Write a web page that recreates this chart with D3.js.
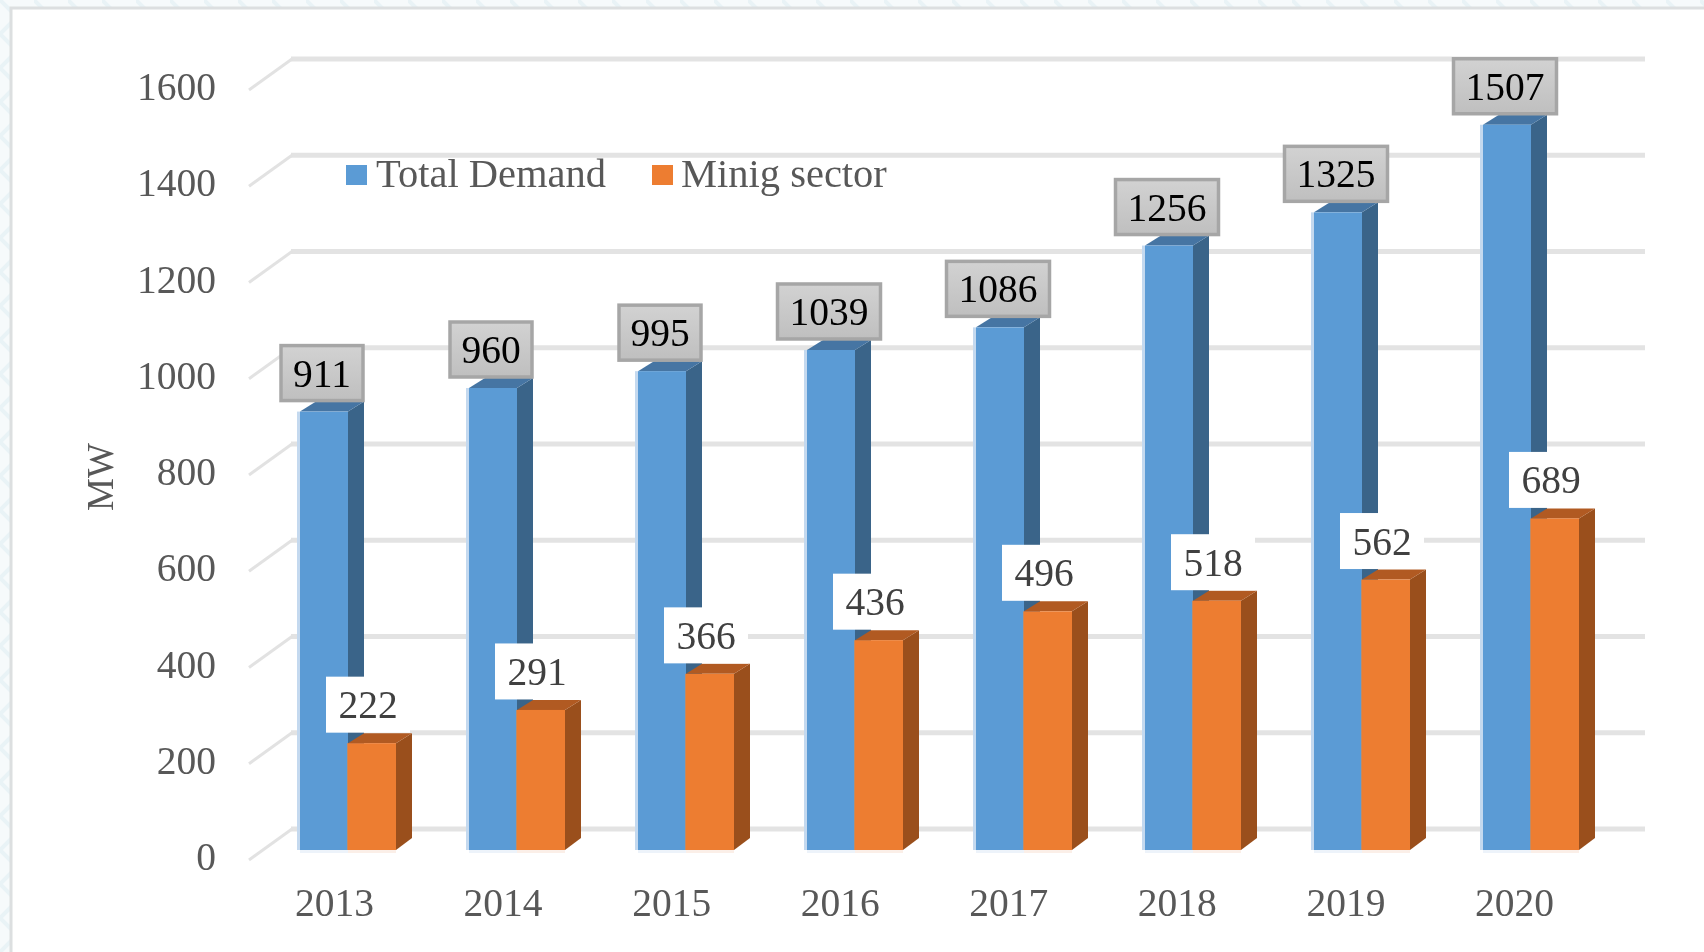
<!DOCTYPE html>
<html><head><meta charset="utf-8">
<script src="https://cdnjs.cloudflare.com/ajax/libs/d3/7.8.5/d3.min.js"></script>
<style>
html,body{margin:0;padding:0;background:#fff;overflow:hidden}
svg{display:block}
text{font-family:"Liberation Serif",serif}
</style></head><body>
<svg id="c" width="1704" height="952"></svg>
<script>
const years = ["2013","2014","2015","2016","2017","2018","2019","2020"];
const totalDemand = [911,960,995,1039,1086,1256,1325,1507];
const miningSector = [222,291,366,436,496,518,562,689];
const yTicks = [0,200,400,600,800,1000,1200,1400,1600];
const seriesNames = ["Total Demand","Minig sector"];

const svg = d3.select("#c");
const defs = svg.append("defs");
const grad = defs.append("linearGradient").attr("id","lab").attr("x2",0).attr("y2",1);
grad.append("stop").attr("offset",0).attr("stop-color","#d2d2d2");
grad.append("stop").attr("offset",1).attr("stop-color","#bfbfbf");
defs.append("filter").attr("id","soft").append("feGaussianBlur").attr("stdDeviation",0.45);
const pat = defs.append("pattern").attr("id","hatch").attr("width",34).attr("height",34).attr("patternUnits","userSpaceOnUse");
pat.append("rect").attr("width",34).attr("height",34).attr("fill","#f6fafb");
pat.append("path").attr("d","M0 34L17 17L0 0").attr("fill","none").attr("stroke","#e9f3f6").attr("stroke-width",4);

// page frame
svg.append("rect").attr("width",1704).attr("height",952).attr("fill","url(#hatch)");
svg.append("rect").attr("x",11).attr("y",8).attr("width",1720).attr("height",1000)
  .attr("fill","#fff").attr("stroke","#dcdfe0").attr("stroke-width",3);

const y = d3.scaleLinear().domain([0,1600]).range([850,80]);
const xBar = d3.scalePoint().domain(years).range([300,1483]);
const xLabel = d3.scalePoint().domain(years).range([334,1514]);
const depthX=16, depthY=10, wallY=21, blueW=48, orangeW=48, labelShift=20;

// gridlines
const g = svg.append("g");
g.selectAll("line.h").data(yTicks).join("line").attr("class","h")
  .attr("x1",291).attr("x2",1645).attr("y1",d=>y(d)-wallY).attr("y2",d=>y(d)-wallY)
  .attr("stroke","#e3e3e3").attr("stroke-width",5);
g.selectAll("line.d").data(yTicks).join("line").attr("class","d")
  .attr("x1",249).attr("x2",292).attr("y1",d=>y(d)+10).attr("y2",d=>y(d)-wallY)
  .attr("stroke","#e2e2e2").attr("stroke-width",3);

function bar(sel,x0,w,v,front,side,top,edge,base,edgeW){
  const x1=x0+w,t=y(v),b=y(0);
  sel.append("rect").attr("x",x0-edgeW).attr("y",t).attr("width",edgeW).attr("height",b-t).attr("fill",edge);
  sel.append("rect").attr("x",x0).attr("y",b).attr("width",w).attr("height",3).attr("fill",base);
  sel.append("polygon").attr("fill",side)
    .attr("points",[[x1,t],[x1+depthX,t-depthY],[x1+depthX,b-depthY-2],[x1,b]].join(" "));
  sel.append("polygon").attr("fill",top)
    .attr("points",[[x0,t],[x0+depthX,t-depthY],[x1+depthX,t-depthY],[x1,t]].join(" "));
  sel.append("rect").attr("x",x0).attr("y",t).attr("width",w).attr("height",b-t).attr("fill",front);
}
const bars = svg.append("g");
years.forEach((yr,i)=>{
  const x0=xBar(yr);
  bar(bars.append("g"),x0,blueW,totalDemand[i],"#5b9bd5","#3a6489","#4675a3","#c4d9ef","#edf3fa",3);
  bar(bars.append("g"),x0+blueW,orangeW,miningSector[i],"#ed7d31","#9a4f1c","#b15a22","#c08a66","#fbefe8",1);
});

// data labels
const labs = svg.append("g");
labs.selectAll("rect.t").data(years).join("rect").attr("class","t")
  .attr("width",(d,i)=>String(totalDemand[i]).length>3?103:82).attr("height",55)
  .attr("x",(d,i)=>xBar(d)+22-(String(totalDemand[i]).length>3?51.5:41))
  .attr("y",(d,i)=>y(totalDemand[i])-9-57)
  .attr("fill","url(#lab)").attr("stroke","#a6a6a6").attr("stroke-width",3.5);
labs.selectAll("rect.m").data(years).join("rect").attr("class","m")
  .attr("width",84).attr("height",56)
  .attr("x",d=>xBar(d)+blueW+labelShift-42)
  .attr("y",(d,i)=>y(miningSector[i])-10.5-56)
  .attr("fill","#fff");
const txt = svg.append("g").attr("filter","url(#soft)");
txt.selectAll("text.t").data(years).join("text").attr("class","t")
  .attr("x",d=>xBar(d)+22).attr("y",(d,i)=>y(totalDemand[i])-25)
  .attr("text-anchor","middle").attr("font-size",39.5).attr("fill","#000")
  .text((d,i)=>totalDemand[i]);
txt.selectAll("text.m").data(years).join("text").attr("class","m")
  .attr("x",d=>xBar(d)+blueW+labelShift).attr("y",(d,i)=>y(miningSector[i])-25)
  .attr("text-anchor","middle").attr("font-size",39.5).attr("fill","#404040")
  .text((d,i)=>miningSector[i]);

// axes
const axisY = txt.append("g").attr("transform","translate(216,7)")
  .call(d3.axisLeft(y).tickValues(yTicks).tickSize(0).tickPadding(0).tickFormat(d3.format("d")));
axisY.select(".domain").remove();
axisY.selectAll("text").attr("font-family","Liberation Serif").attr("font-size",39.5).attr("fill","#595959");
const axisX = txt.append("g").attr("transform","translate(0,888)")
  .call(d3.axisBottom(xLabel).tickSize(0).tickPadding(0));
axisX.select(".domain").remove();
axisX.selectAll("text").attr("font-family","Liberation Serif").attr("font-size",39.5).attr("fill","#595959");

txt.append("text").attr("transform","translate(113,477) rotate(-90)")
  .attr("text-anchor","middle").attr("font-size",37).attr("fill","#595959").text("MW");

// legend
const legX=[346,652], legTextX=[376,681], legColors=["#5b9bd5","#ed7d31"];
svg.selectAll("rect.leg").data(seriesNames).join("rect").attr("class","leg")
  .attr("x",(d,i)=>legX[i]).attr("y",165).attr("width",21).attr("height",20).attr("fill",(d,i)=>legColors[i]);
txt.selectAll("text.leg").data(seriesNames).join("text").attr("class","leg")
  .attr("x",(d,i)=>legTextX[i]).attr("y",187).attr("font-size",40.5).attr("fill","#595959").text(d=>d);
</script>
</body></html>
